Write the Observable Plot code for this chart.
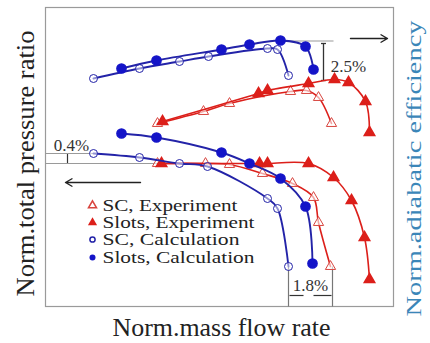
<!DOCTYPE html>
<html><head><meta charset="utf-8">
<script src="https://cdn.jsdelivr.net/npm/d3@7"></script>
<script src="https://cdn.jsdelivr.net/npm/@observablehq/plot@0.6"></script>
<style>body{margin:0;background:#fff}</style>
</head><body><div id="chart"></div>
<script>
// Norm. mass flow rate (arbitrary units, no ticks) and normalized values
// Upper group: adiabatic efficiency
const effSCCalcX = [48, 94, 134, 163, 222, 232, 243];
const effSCCalcY = [228, 238, 245, 250, 258, 257, 231];
const effSlotsCalcX = [76, 111, 176, 204, 235, 260, 268];
const effSlotsCalcY = [238, 246, 257, 262, 266, 260, 237];
const effSCExpX = [112, 158, 184, 245, 261, 273, 286];
const effSCExpY = [183, 195, 203, 215, 216, 209, 183];
const effSlotsExpX = [117, 213, 222, 263, 289, 303, 320, 324];
const effSlotsExpY = [185, 213, 216, 223, 227, 224, 205, 174];
// Lower group: total pressure ratio
const prSCCalcX = [48, 94, 134, 162, 222, 232, 243];
const prSCCalcY = [153, 149, 143, 140, 108, 98, 40];
const prSlotsCalcX = [76, 111, 176, 204, 235, 260, 267];
const prSlotsCalcY = [173, 169, 154, 143, 128, 100, 43];
const prSCExpX = [112, 160, 184, 217, 247, 268, 273, 285];
const prSCExpY = [143, 143, 142, 133, 123, 109, 84, 40];
const prSlotsExpX = [116, 214, 222, 263, 288, 306, 319, 324];
const prSlotsExpY = [143, 143, 143, 143, 129, 106, 69, 27];

const legendLabels = ["SC, Experiment", "Slots, Experiment", "SC, Calculation", "Slots, Calculation"];
const annotations = ["2.5%", "0.4%", "1.8%"];
const xTitle = "Norm.mass flow rate";
const yTitle = "Norm.total pressure ratio";
const y2Title = "Norm.adiabatic efficiency";

const pts = (xs, ys) => xs.map((x, i) => ({x, y: ys[i]}));

const RED = "#dc1f1a", RED_L = "#d8453f", BLUE = "#1414c8", BLUE_D = "#2323a8";

function series(xs, ys, kind) {
  const d = pts(xs, ys);
  const marks = [];
  const isRed = kind.startsWith("tri");
  marks.push(Plot.line(d, {x: "x", y: "y", stroke: isRed ? RED : BLUE_D, strokeWidth: isRed ? 1.6 : 1.9, curve: "catmull-rom"}));
  if (kind === "triOpen") marks.push(Plot.dot(d, {x: "x", y: "y", symbol: "triangle", r: 3.8, stroke: RED_L, strokeWidth: 1, fill: "white", fillOpacity: 0.6}));
  if (kind === "triFill") marks.push(Plot.dot(d, {x: "x", y: "y", symbol: "triangle", r: 3.9, fill: RED, stroke: RED}));
  if (kind === "circOpen") marks.push(Plot.dot(d, {x: "x", y: "y", r: 4, stroke: BLUE_D, strokeWidth: 1, fill: "white", fillOpacity: 0.5}));
  if (kind === "circFill") marks.push(Plot.dot(d, {x: "x", y: "y", r: 4.6, fill: BLUE, stroke: BLUE}));
  return marks;
}

const legendY = [101, 84, 67, 49];
const legendRows = legendLabels.map((t, i) => ({t, y: legendY[i], i}));

const chart = Plot.plot({
  width: 430, height: 343,
  marginLeft: 45, marginRight: 37, marginTop: 7, marginBottom: 37,
  x: {domain: [0, 348], axis: null},
  y: {domain: [0, 299], axis: null},
  style: {fontFamily: "'Liberation Serif', 'DejaVu Serif', serif", background: "white"},
  marks: [
    Plot.frame({stroke: "#9a9a9a", strokeWidth: 1.2}),
    // reference / dimension lines
    Plot.link([{x1: 235, y1: 265.5, x2: 288, y2: 265.5}], {x1: "x1", y1: "y1", x2: "x2", y2: "y2", stroke: "#999", strokeWidth: 1.2}),
    Plot.link([{x1: 278, y1: 263, x2: 278, y2: 226}, {x1: 275.5, y1: 263, x2: 280.5, y2: 263}, {x1: 275.5, y1: 226, x2: 280.5, y2: 226}], {x1: "x1", y1: "y1", x2: "x2", y2: "y2", stroke: "#333", strokeWidth: 1.3}),
    Plot.link([{x1: 0, y1: 153, x2: 48, y2: 153}, {x1: 0, y1: 143, x2: 115, y2: 143}], {x1: "x1", y1: "y1", x2: "x2", y2: "y2", stroke: "#9a9a9a", strokeWidth: 1.2}),
    Plot.link([{x1: 22, y1: 143.5, x2: 22, y2: 152.5}], {x1: "x1", y1: "y1", x2: "x2", y2: "y2", stroke: "#333", strokeWidth: 1.2}),
    Plot.link([{x1: 243, y1: 40, x2: 243, y2: 0}, {x1: 287, y1: 40, x2: 287, y2: 0}], {x1: "x1", y1: "y1", x2: "x2", y2: "y2", stroke: "#777", strokeWidth: 1.2}),
    Plot.link([{x1: 244, y1: 11, x2: 258, y2: 11}, {x1: 268, y1: 11, x2: 286, y2: 11}], {x1: "x1", y1: "y1", x2: "x2", y2: "y2", stroke: "#333", strokeWidth: 1.2}),
    Plot.arrow([{x1: 305, y1: 268, x2: 342, y2: 268}, {x1: 95, y1: 124, x2: 20, y2: 124}], {x1: "x1", y1: "y1", x2: "x2", y2: "y2", stroke: "#222", strokeWidth: 1.4, headLength: 8}),
    // data
    ...series(effSCExpX, effSCExpY, "triOpen"),
    ...series(effSlotsExpX, effSlotsExpY, "triFill"),
    ...series(prSCExpX, prSCExpY, "triOpen"),
    ...series(prSlotsExpX, prSlotsExpY, "triFill"),
    ...series(effSCCalcX, effSCCalcY, "circOpen"),
    ...series(effSlotsCalcX, effSlotsCalcY, "circFill"),
    ...series(prSCCalcX, prSCCalcY, "circOpen"),
    ...series(prSlotsCalcX, prSlotsCalcY, "circFill"),
    // legend
    Plot.dot([legendRows[0]], {x: 47, y: "y", symbol: "triangle", r: 3, stroke: RED_L, fill: "white"}),
    Plot.dot([legendRows[1]], {x: 47, y: "y", symbol: "triangle", r: 3.4, fill: RED}),
    Plot.dot([legendRows[2]], {x: 47, y: "y", r: 2.6, stroke: BLUE_D, fill: "white"}),
    Plot.dot([legendRows[3]], {x: 47, y: "y", r: 3, fill: BLUE}),
    Plot.text(legendRows, {x: 57, y: "y", text: "t", textAnchor: "start", fontSize: 16, fill: "#222", className: "leg"}),
    // annotations
    Plot.text([annotations[0]], {x: 303, y: 240, text: d => d, fontSize: 17, fill: "#333"}),
    Plot.text([annotations[1]], {x: 26, y: 161, text: d => d, fontSize: 17, fill: "#333"}),
    Plot.text([annotations[2]], {x: 265, y: 21, text: d => d, fontSize: 17, fill: "#333"}),
    // axis titles
    Plot.text([xTitle], {x: 176, y: -21, text: d => d, fontSize: 25, fill: "#222", className: "xt"}),
    Plot.text([yTitle], {x: -20, y: 143, text: d => d, fontSize: 25, rotate: -90, fill: "#222", className: "yt"}),
    Plot.text([y2Title], {x: 368, y: 138, text: d => d, fontSize: 22, rotate: -90, fill: "#3b86b8", className: "y2t"})
  ]
});
document.getElementById("chart").appendChild(chart);
// stretch titles/legend text to the widths seen in the reference
const svg = d3.select(chart);
const legW = [135, 152, 137, 152];
svg.selectAll(".leg text").each(function(d, i) {
  d3.select(this).attr("textLength", legW[i]).attr("lengthAdjust", "spacingAndGlyphs");
});
svg.selectAll(".xt text").attr("textLength", 218).attr("lengthAdjust", "spacingAndGlyphs");
svg.selectAll(".yt text").attr("textLength", 266).attr("lengthAdjust", "spacingAndGlyphs");
svg.selectAll(".y2t text").attr("textLength", 296).attr("lengthAdjust", "spacingAndGlyphs");
</script>
</body></html>
